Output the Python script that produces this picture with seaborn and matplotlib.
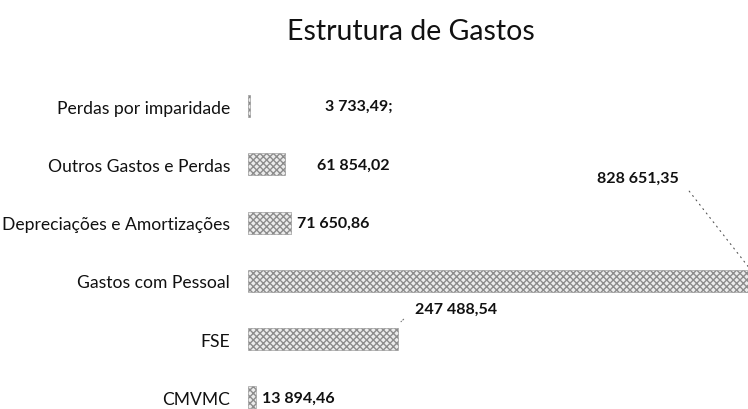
import seaborn as sns
import matplotlib.pyplot as plt
import pandas as pd

# Data (top to bottom)
categories = ['Perdas por imparidade', 'Outros Gastos e Perdas', 'Depreciações e Amortizações',
              'Gastos com Pessoal', 'FSE', 'CMVMC']
values = [3733.49, 61854.02, 71650.86, 828651.35, 247488.54, 13894.46]
value_labels = ['3 733,49;', '61 854,02', '71 650,86', '828 651,35', '247 488,54', '13 894,46']

df = pd.DataFrame({'categoria': categories, 'valor': values})

sns.set_theme(style='white')
plt.rcParams['font.family'] = ['Lato', 'DejaVu Sans']

fig = plt.figure(figsize=(7.48, 4.10), dpi=100)
ax = fig.add_axes([248 / 748, 0.0, 1 - 248 / 748, 1 - 78 / 410])

sns.barplot(data=df, x='valor', y='categoria', orient='h', ax=ax,
            color='#ececec', width=0.38, edgecolor='#8c8c8c', linewidth=0.4)
for bar in ax.patches:
    bar.set_hatch('xxxxx')

ax.set_xlim(0, 825000)
ax.set_ylim(5.2, -0.5)
sns.despine(ax=ax, left=True, bottom=True)
ax.set_xticks([])
ax.set_xlabel('')
ax.set_ylabel('')
ax.tick_params(axis='y', length=0, pad=13, labelsize=12.6, labelcolor='#111111')

# value labels (offsets in pixels from the bar end, as dragged in the original)
offsets = [(75, 0), (32, 0), (6, 0), (-112, 91), (17, 16), (6, 0)]
for i, (v, txt, off) in enumerate(zip(values, value_labels, offsets)):
    if i == 3:
        ax.annotate(txt, xy=(v, i - 0.2), xytext=off, textcoords='offset pixels',
                    ha='center', va='center', fontsize=11.5, fontweight='bold',
                    color='#111111', annotation_clip=False,
                    arrowprops=dict(arrowstyle='-', linestyle=(0, (1, 4)), color='#555555',
                                    lw=0.8, shrinkA=8, shrinkB=2, relpos=(1, 0.5)))
    elif i == 4:
        ax.annotate(txt, xy=(v, i - 0.25), xytext=off, textcoords='offset pixels',
                    ha='left', va='center', fontsize=11.5, fontweight='bold',
                    color='#111111',
                    arrowprops=dict(arrowstyle='-', linestyle=':', color='#777777',
                                    lw=0.8, shrinkA=8, shrinkB=3, relpos=(0, 0.5)))
    else:
        ax.annotate(txt, xy=(v, i), xytext=off, textcoords='offset pixels',
                    ha='left', va='center', fontsize=11.5, fontweight='bold',
                    color='#111111')

fig.text(411 / 748, 1 - 32 / 410, 'Estrutura de Gastos', ha='center', va='center',
         fontsize=20.5, color='#111111')

fig.savefig('out.png', dpi=100)
